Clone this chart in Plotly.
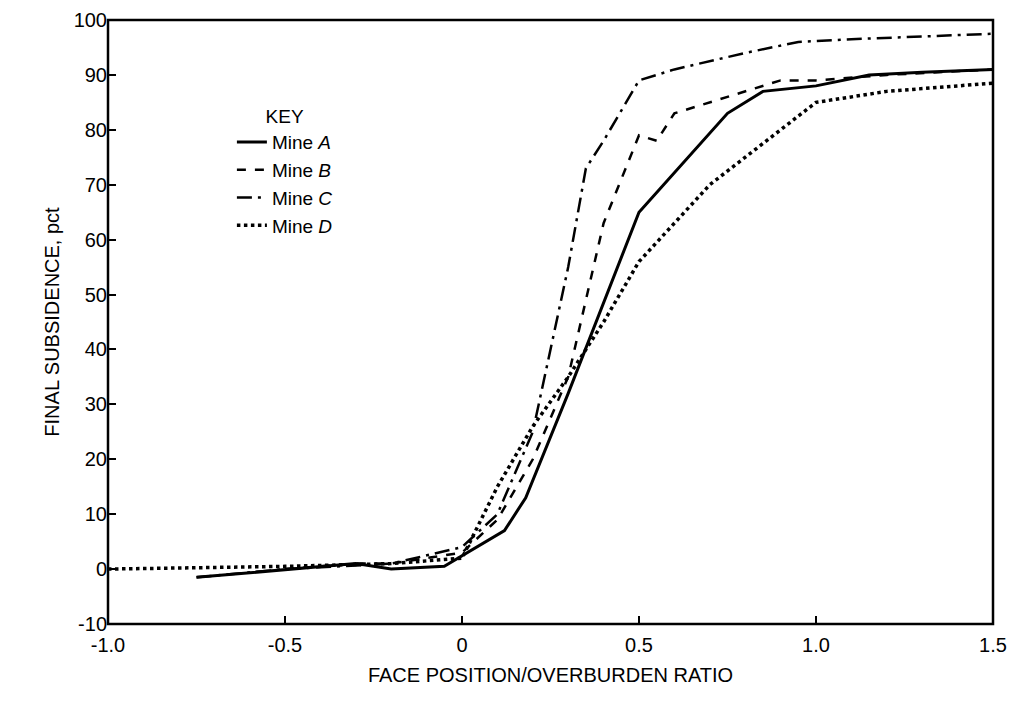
import plotly.graph_objects as go

a_x = [-0.75, -0.3, -0.2, -0.05, 0.12, 0.18, 0.3, 0.5, 0.75, 0.85, 1.0, 1.15, 1.3, 1.5]
a_y = [-1.5, 1, 0, 0.5, 7, 13, 32, 65, 83, 87, 88, 90, 90.5, 91]
b_x = [-0.5, -0.3, -0.2, 0.0, 0.1, 0.2, 0.3, 0.4, 0.5, 0.55, 0.6, 0.8, 0.9, 1.0, 1.2, 1.5]
b_y = [0, 1, 1, 3, 9, 20, 35, 63, 79, 78, 83, 87, 89, 89, 90, 91]
c_x = [-0.75, -0.5, -0.2, 0.0, 0.1, 0.2, 0.3, 0.35, 0.4, 0.5, 0.6, 0.8, 0.95, 1.1, 1.5]
c_y = [-1.5, 0, 1, 4, 10, 25, 55, 73, 78, 89, 91, 94, 96, 96.5, 97.5]
d_x = [-1.0, -0.5, -0.2, 0.0, 0.1, 0.2, 0.3, 0.4, 0.5, 0.7, 1.0, 1.2, 1.5]
d_y = [0, 0.5, 1, 2, 15, 26, 35, 45, 56, 70, 85, 87, 88.5]

x_ticks = [-1.0, -0.5, 0, 0.5, 1.0, 1.5]
x_labels = ["-1.0", "-0.5", "0", "0.5", "1.0", "1.5"]
y_ticks = list(range(-10, 101, 10))
y_labels = ["-10"] + [str(v) for v in y_ticks[1:]]

fig = go.Figure()
for name, x, y, dash, w in [("Mine <i>A</i>", a_x, a_y, "solid", 3),
                            ("Mine <i>B</i>", b_x, b_y, "dash", 2.5),
                            ("Mine <i>C</i>", c_x, c_y, "longdashdot", 2.5),
                            ("Mine <i>D</i>", d_x, d_y, "dot", 3.5)]:
    fig.add_trace(go.Scatter(x=x, y=y, mode="lines", name=name, cliponaxis=False,
                             line=dict(color="black", dash=dash, width=w)))

def ax(**kw):
    d = dict(showgrid=False, zeroline=False, showline=False,
             ticks="inside", ticklen=8,
             tickcolor="black", tickwidth=2, tickfont=dict(size=20, color="black"))
    d.update(kw)
    return d

fig.add_shape(type="rect", xref="paper", yref="paper", x0=0, y0=0, x1=1, y1=1,
              line=dict(color="black", width=2.5), layer="above")

fig.update_layout(
    width=1017, height=702, plot_bgcolor="white", paper_bgcolor="white",
    font=dict(family="Liberation Sans, Arial", color="black", size=20),
    margin=dict(l=100, r=32, t=12, b=86, autoexpand=False),
    xaxis=ax(range=[-1.0, 1.5], tickmode="array", tickvals=x_ticks, ticktext=x_labels,
             ticklabelstandoff=7,
             title=dict(text="FACE POSITION/OVERBURDEN RATIO", font=dict(size=20), standoff=12)),
    yaxis=ax(range=[-10, 100], tickmode="array", tickvals=y_ticks, ticktext=y_labels,
             title=dict(text="FINAL SUBSIDENCE, pct", font=dict(size=20), standoff=8)),
    legend=dict(x=0.14, y=0.87, xanchor="left", yanchor="top", bgcolor="rgba(0,0,0,0)",
                title=dict(text="      KEY", font=dict(size=19)),
                font=dict(size=19)),
)
fig.write_html("out.html")
